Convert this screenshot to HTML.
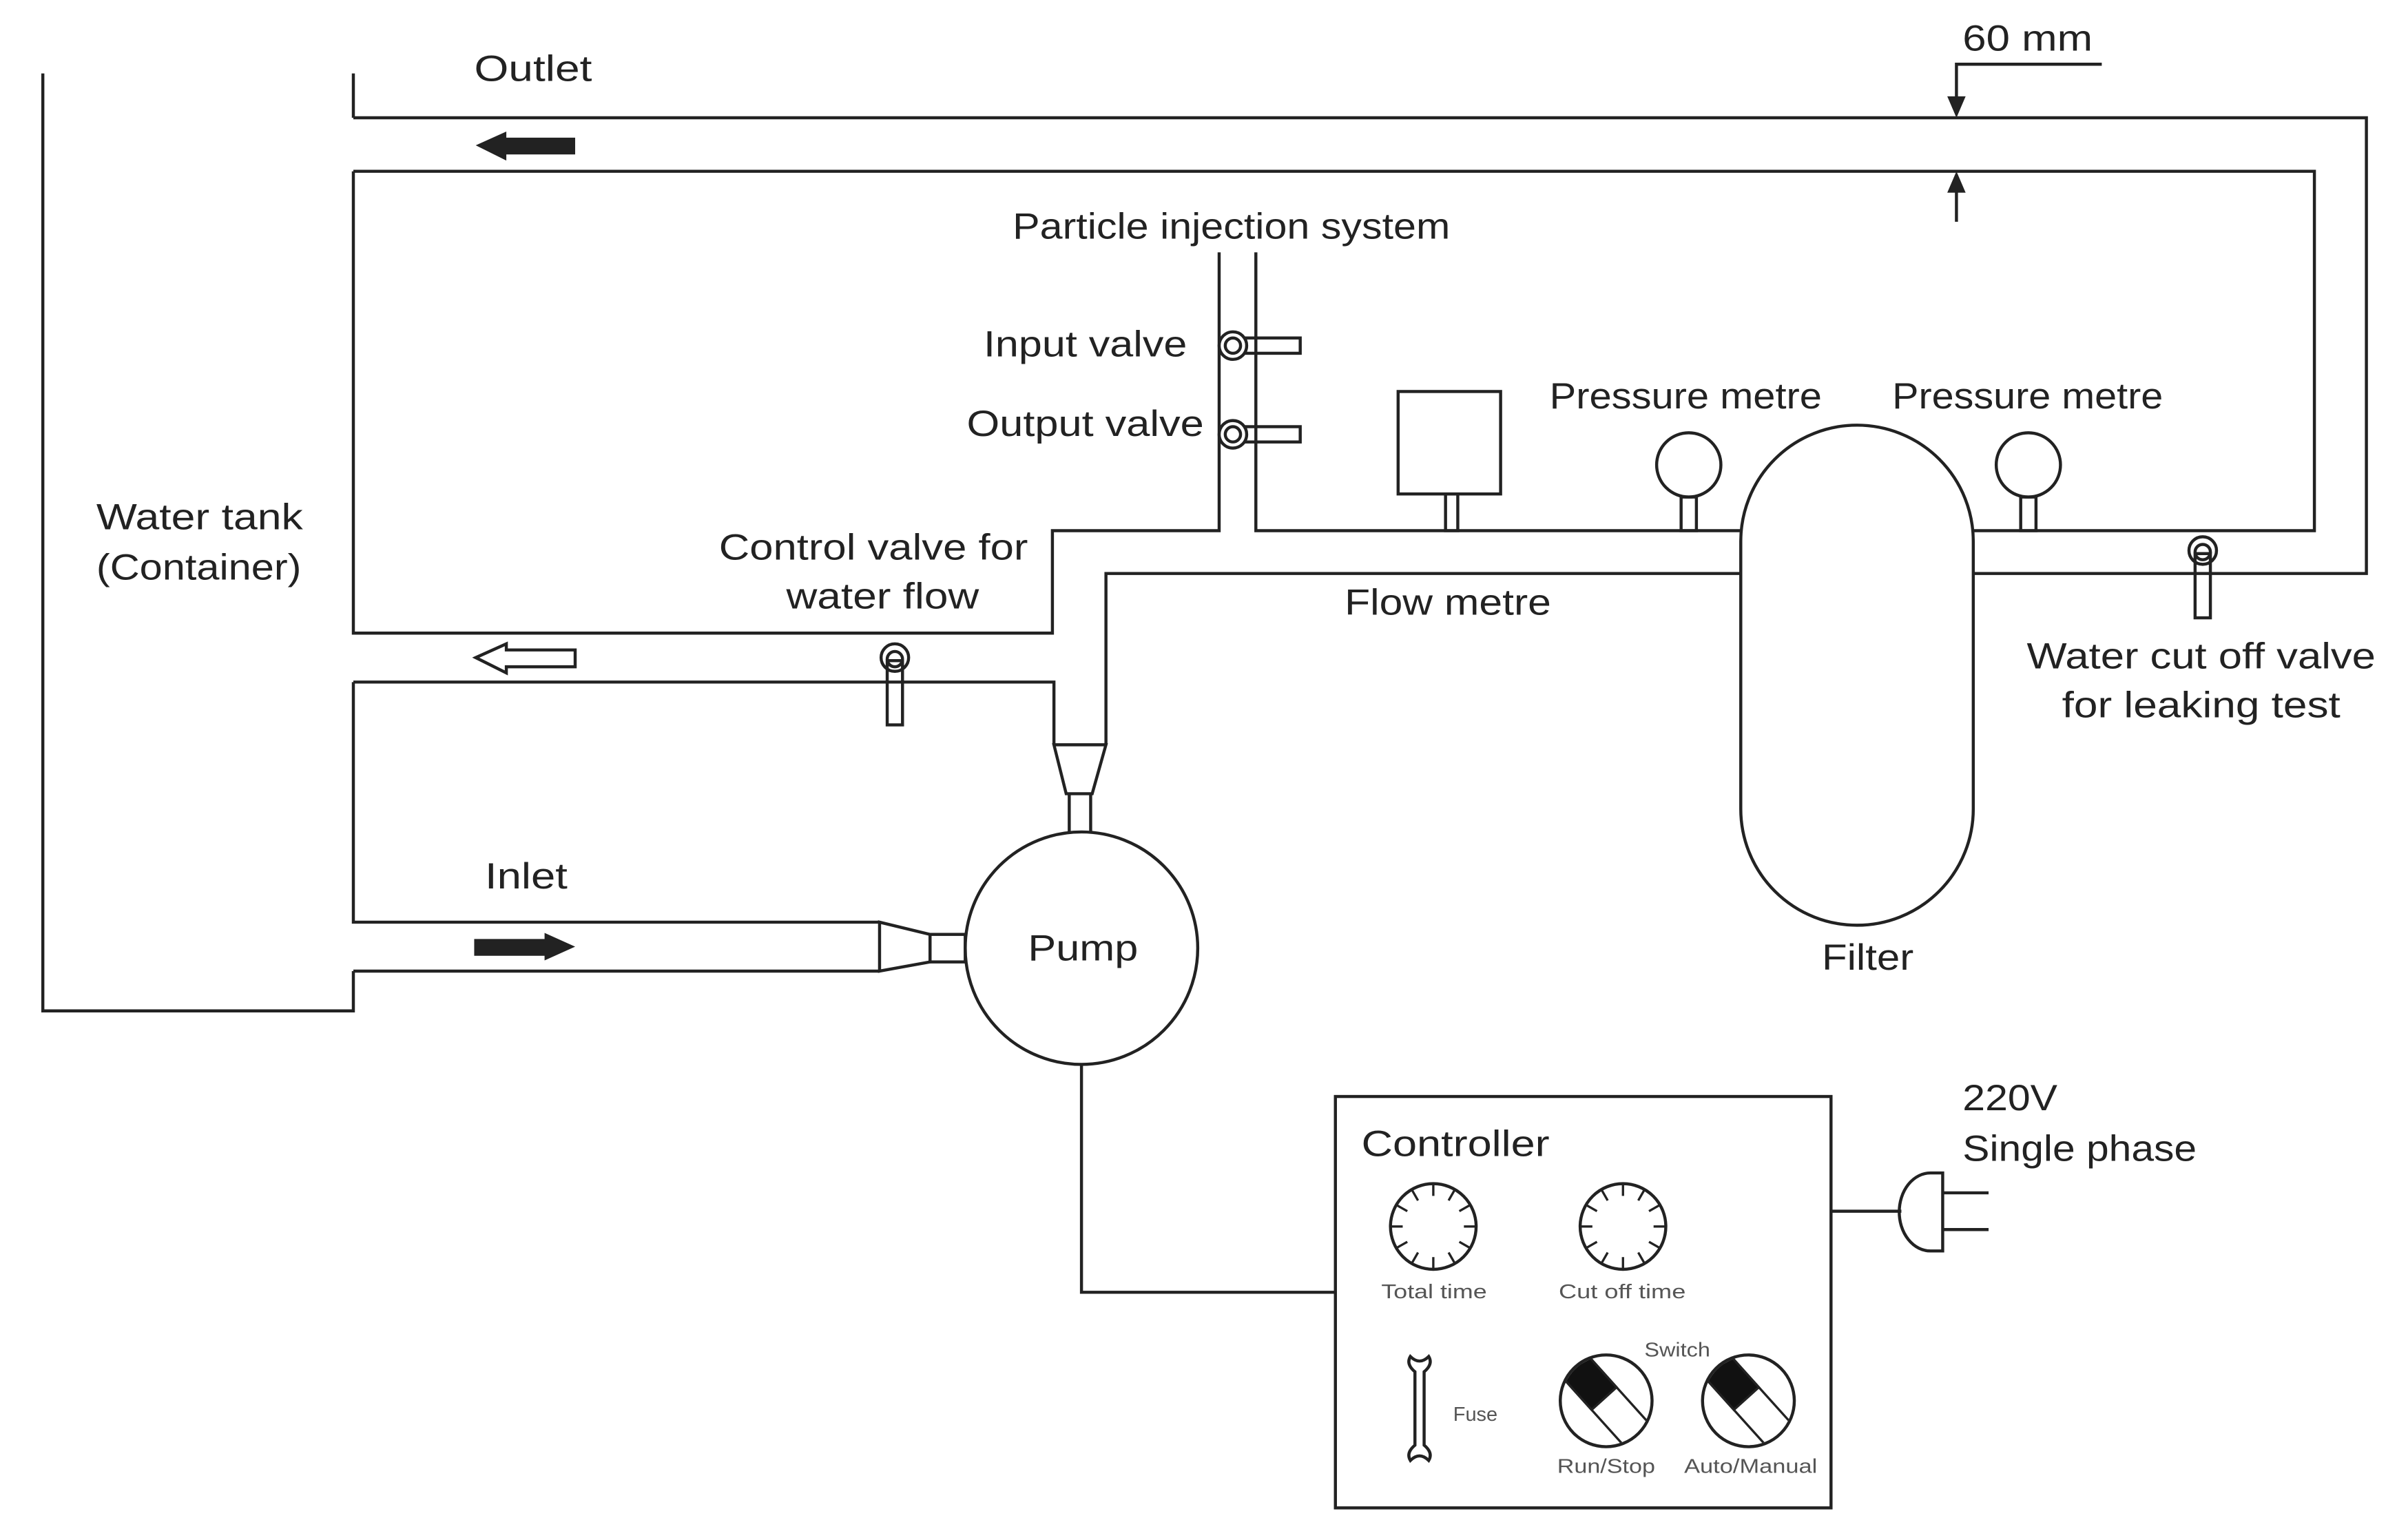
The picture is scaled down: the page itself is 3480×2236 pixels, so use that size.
<!DOCTYPE html>
<html><head><meta charset="utf-8"><style>
html,body{margin:0;padding:0;background:#fff;}
svg{display:block;}
text{font-family:"Liberation Sans",sans-serif;fill:#222;}
</style></head><body>
<svg width="3480" height="2236" viewBox="0 0 1567 1007" preserveAspectRatio="none" xmlns="http://www.w3.org/2000/svg">
<defs><clipPath id="c1"><circle cx="1050" cy="916" r="29"/></clipPath><clipPath id="c2"><circle cx="1143" cy="916" r="29"/></clipPath></defs>
<g fill="none" stroke="#222" stroke-width="2">
<polyline points="28,48 28,661 231,661 231,635"/>
<line x1="231" y1="48" x2="231" y2="77"/>
<polyline points="231,77 1547,77 1547,375 1290,375"/>
<polyline points="231,112 1513,112 1513,347 1290,347"/>
<polyline points="231,112 231,414 688,414 688,347 797,347 797,165"/>
<polyline points="821,165 821,347 1138,347"/>
<polyline points="1138,375 723,375 723,487"/>
<polyline points="231,446 689,446 689,487"/>
<polyline points="231,446 231,603 575,603"/>
<line x1="231" y1="635" x2="575" y2="635"/>
<polygon points="689,487 723,487 714,519 697,519"/>
<polyline points="699,519 699,545"/><polyline points="713,519 713,545"/>
<polygon points="575,603 608,611 608,629 575,635"/>
<rect x="608" y="611" width="23" height="18"/>
<circle cx="707" cy="620" r="76"/>
<polyline points="707,696 707,845 873,845"/>
<rect x="873" y="717" width="324" height="269"/>
<line x1="1197" y1="792" x2="1243" y2="792"/>
<path d="M1270,767 L1262,767 A20,25 0 0 0 1262,818 L1270,818 Z"/>
<line x1="1270" y1="780" x2="1300" y2="780"/><line x1="1270" y1="804" x2="1300" y2="804"/>
<path d="M1138,354 A76,76 0 0 1 1290,354 L1290,529 A76,76 0 0 1 1138,529 Z" fill="#fff"/>
<circle cx="1104" cy="304" r="21"/><rect x="1099" y="325" width="10" height="22"/>
<circle cx="1326" cy="304" r="21"/><rect x="1321" y="325" width="10" height="22"/>
<rect x="914" y="256" width="67" height="67"/><rect x="945" y="323" width="8" height="24"/>
<rect x="810" y="221" width="40" height="10"/><circle cx="806" cy="226" r="9" fill="#fff"/><circle cx="806" cy="226" r="5"/>
<rect x="810" y="279" width="40" height="10"/><circle cx="806" cy="284" r="9" fill="#fff"/><circle cx="806" cy="284" r="5"/>
<rect x="1435" y="362" width="10" height="42"/><circle cx="1440" cy="360" r="9"/><circle cx="1440" cy="361" r="5"/>
<rect x="580" y="432" width="10" height="42"/><circle cx="585" cy="430" r="9"/><circle cx="585" cy="431" r="5"/>
<polyline points="1374,42 1279,42 1279,70"/>
<line x1="1279" y1="120" x2="1279" y2="145"/>
<polygon points="311,430 331,421 331,425 376,425 376,436 331,436 331,440"/>
<circle cx="937" cy="802" r="28"/><circle cx="1061" cy="802" r="28"/>
<circle cx="1050" cy="916" r="30"/><circle cx="1143" cy="916" r="30"/>
<path d="M925,897 q-6,-5 -3,-10 q3,3 6,3 q3,0 6,-3 q3,5 -3,10 v48 q6,5 3,10 q-3,-3 -6,-3 q-3,0 -6,3 q-3,-5 3,-10 Z"/>
</g>
<g fill="#222">
<polygon points="1279,77 1273,63 1285,63"/><polygon points="1279,112 1273,126 1285,126"/>
<polygon points="311,95 331,86 331,90 376,90 376,101 331,101 331,105"/>
<polygon points="376,619 356,610 356,614 310,614 310,625 356,625 356,628"/>
</g>
<g stroke="#222" stroke-width="1.5">
<g transform="translate(937,802)">
<line x1="0" y1="-28" x2="0" y2="-20"/><line x1="0" y1="28" x2="0" y2="20"/><line x1="-28" y1="0" x2="-20" y2="0"/><line x1="28" y1="0" x2="20" y2="0"/>
<line x1="14" y1="-24" x2="10" y2="-17"/><line x1="-14" y1="-24" x2="-10" y2="-17"/><line x1="14" y1="24" x2="10" y2="17"/><line x1="-14" y1="24" x2="-10" y2="17"/>
<line x1="24" y1="-14" x2="17" y2="-10"/><line x1="-24" y1="-14" x2="-17" y2="-10"/><line x1="24" y1="14" x2="17" y2="10"/><line x1="-24" y1="14" x2="-17" y2="10"/></g>
<g transform="translate(1061,802)">
<line x1="0" y1="-28" x2="0" y2="-20"/><line x1="0" y1="28" x2="0" y2="20"/><line x1="-28" y1="0" x2="-20" y2="0"/><line x1="28" y1="0" x2="20" y2="0"/>
<line x1="14" y1="-24" x2="10" y2="-17"/><line x1="-14" y1="-24" x2="-10" y2="-17"/><line x1="14" y1="24" x2="10" y2="17"/><line x1="-14" y1="24" x2="-10" y2="17"/>
<line x1="24" y1="-14" x2="17" y2="-10"/><line x1="-24" y1="-14" x2="-17" y2="-10"/><line x1="24" y1="14" x2="17" y2="10"/><line x1="-24" y1="14" x2="-17" y2="10"/></g>
<g clip-path="url(#c1)"><g transform="translate(1050,916) rotate(-42)"><rect x="-11" y="-40" width="22" height="80" fill="none"/><rect x="-11" y="-40" width="22" height="38" fill="#111"/></g></g>
<g clip-path="url(#c2)"><g transform="translate(1143,916) rotate(-42)"><rect x="-11" y="-40" width="22" height="80" fill="none"/><rect x="-11" y="-40" width="22" height="38" fill="#111"/></g></g>
</g>
<g font-size="24">
<text x="310" y="53" textLength="77" lengthAdjust="spacingAndGlyphs">Outlet</text>
<text x="1283" y="33" textLength="85" lengthAdjust="spacingAndGlyphs">60 mm</text>
<text x="662" y="156" textLength="286" lengthAdjust="spacingAndGlyphs">Particle injection system</text>
<text x="643" y="233" textLength="133" lengthAdjust="spacingAndGlyphs">Input valve</text>
<text x="632" y="285" textLength="155" lengthAdjust="spacingAndGlyphs">Output valve</text>
<text x="1013" y="267" textLength="178" lengthAdjust="spacingAndGlyphs">Pressure metre</text>
<text x="1237" y="267" textLength="177" lengthAdjust="spacingAndGlyphs">Pressure metre</text>
<text x="63" y="346" textLength="135" lengthAdjust="spacingAndGlyphs">Water tank</text>
<text x="63" y="379" textLength="134" lengthAdjust="spacingAndGlyphs">(Container)</text>
<text x="470" y="366" textLength="202" lengthAdjust="spacingAndGlyphs">Control valve for</text>
<text x="514" y="398" textLength="126" lengthAdjust="spacingAndGlyphs">water flow</text>
<text x="879" y="402" textLength="135" lengthAdjust="spacingAndGlyphs">Flow metre</text>
<text x="1325" y="437" textLength="228" lengthAdjust="spacingAndGlyphs">Water cut off valve</text>
<text x="1348" y="469" textLength="182" lengthAdjust="spacingAndGlyphs">for leaking test</text>
<text x="317" y="581" textLength="54" lengthAdjust="spacingAndGlyphs">Inlet</text>
<text x="672" y="628" textLength="72" lengthAdjust="spacingAndGlyphs">Pump</text>
<text x="1191" y="634" textLength="60" lengthAdjust="spacingAndGlyphs">Filter</text>
<text x="1283" y="726" textLength="62" lengthAdjust="spacingAndGlyphs">220V</text>
<text x="1283" y="759" textLength="153" lengthAdjust="spacingAndGlyphs">Single phase</text>
<text x="890" y="756" textLength="123" lengthAdjust="spacingAndGlyphs">Controller</text>
</g>
<g font-size="13">
<text x="903" y="849" style="fill:#555" textLength="69" lengthAdjust="spacingAndGlyphs">Total  time</text>
<text x="1019" y="849" style="fill:#555" textLength="83" lengthAdjust="spacingAndGlyphs">Cut off time</text>
<text x="1075" y="887" style="fill:#555" textLength="43" lengthAdjust="spacingAndGlyphs">Switch</text>
<text x="950" y="929" style="fill:#555" textLength="29" lengthAdjust="spacingAndGlyphs">Fuse</text>
<text x="1018" y="963" style="fill:#555" textLength="64" lengthAdjust="spacingAndGlyphs">Run/Stop</text>
<text x="1101" y="963" style="fill:#555" textLength="87" lengthAdjust="spacingAndGlyphs">Auto/Manual</text>
</g>
</svg>
</body></html>
